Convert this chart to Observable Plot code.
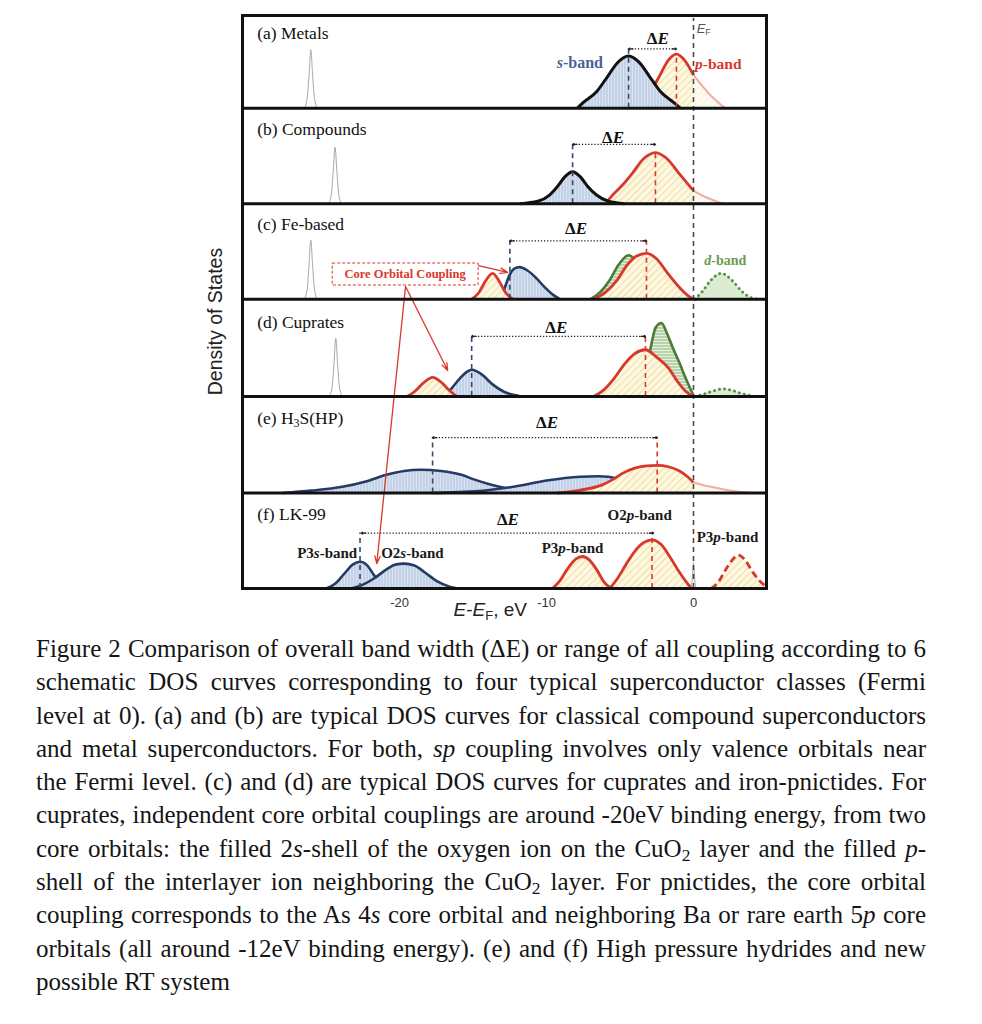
<!DOCTYPE html>
<html><head><meta charset="utf-8">
<script src="https://cdn.jsdelivr.net/npm/d3@7"></script>
<script src="https://cdn.jsdelivr.net/npm/@observablehq/plot@0.6"></script>
<style>
body{margin:0;background:#fff;}
#chart svg{display:block;}
#caption{margin:7px 0 0 36px;width:890px;font-family:"Liberation Serif","Times New Roman",serif;font-size:25px;line-height:33.3px;color:#151515;}
#caption div{height:33.3px;text-align:justify;text-align-last:justify;}
#caption div.last{text-align-last:left;}
#caption sub{font-size:0.7em;line-height:0;vertical-align:baseline;position:relative;top:0.25em;}
</style></head><body>
<div id="chart"></div>
<div id="caption"></div>
<script>
// ---------- data (x in eV, h = relative density inside a panel) ----------
const panelTitles = ["(a) Metals","(b) Compounds","(c) Fe-based","(d) Cuprates","(e) H<sub>3</sub>S(HP)","(f) LK-99"];
const panelBase = [5.03, 4.03, 3.03, 2.01, 1.0, 0];
const xDomain = [-30.7, 4.97];
const yDomain = [0, 6];
const xTicks = [-20, -10, 0];

// (a) Metals
const aCore = [[-26.5,0],[-26.3,0.1],[-26.17,0.35],[-26.05,0.61],[-25.93,0.35],[-25.8,0.1],[-25.6,0]];
const aP  = [[-3.4,0.08],[-2.85,0.19],[-2.29,0.343],[-1.72,0.5],[-1.16,0.565],[-0.6,0.5],[0,0.345]];
const aPf = [[0,0.345],[0.5,0.25],[1.0,0.16],[1.5,0.085],[2.0,0.02],[2.2,0]];
const aS  = [[-7.9,0],[-7.57,0.05],[-6.57,0.177],[-5.85,0.331],[-5.14,0.481],[-4.42,0.545],[-3.71,0.481],[-2.99,0.331],[-2.27,0.177],[-1.27,0.05],[-0.9,0]];
// (b) Compounds
const bCore = [[-24.85,0],[-24.65,0.1],[-24.52,0.35],[-24.4,0.59],[-24.28,0.35],[-24.15,0.1],[-23.95,0]];
const bP  = [[-6.0,0],[-5.4,0.107],[-4.8,0.2],[-4.15,0.32],[-3.4,0.47],[-2.59,0.535],[-1.8,0.47],[-1.0,0.32],[0,0.134]];
const bPf = [[0,0.134],[0.6,0.085],[1.2,0.045],[1.7,0.015],[2.1,0]];
const bS  = [[-11.8,0],[-10.6,0.025],[-9.8,0.09],[-9.26,0.18],[-8.76,0.28],[-8.23,0.335],[-7.7,0.28],[-7.2,0.18],[-6.6,0.09],[-5.8,0.025],[-4.7,0]];
// (c) Fe-based
const cCore = [[-26.5,0],[-26.3,0.1],[-26.17,0.36],[-26.05,0.62],[-25.93,0.36],[-25.8,0.1],[-25.6,0]];
const cB  = [[-13.1,0],[-12.8,0.14],[-12.5,0.26],[-12.2,0.32],[-11.84,0.335],[-11.3,0.3],[-10.7,0.22],[-10.1,0.12],[-9.6,0.05],[-9.1,0]];
const cR1 = [[-15.1,0],[-14.6,0.07],[-14.2,0.18],[-13.67,0.27],[-13.2,0.18],[-12.8,0.07],[-12.3,0]];
const cG  = [[-7.0,0],[-6.3,0.08],[-5.7,0.2],[-5.1,0.36],[-4.42,0.46],[-3.8,0.38],[-3.2,0.22],[-2.6,0.1],[-2.0,0]];
const cP  = [[-6.8,0],[-6.0,0.07],[-5.2,0.2],[-4.5,0.36],[-3.9,0.45],[-3.2,0.48],[-2.5,0.42],[-1.8,0.28],[-1.0,0.13],[-0.4,0.04],[0,0]];
const cD  = [[0.1,0],[0.6,0.08],[1.2,0.2],[1.9,0.27],[2.6,0.2],[3.3,0.08],[4.0,0.01],[4.3,0]];
// (d) Cuprates
const dCore = [[-24.8,0],[-24.6,0.1],[-24.47,0.35],[-24.35,0.61],[-24.23,0.35],[-24.1,0.1],[-23.9,0]];
const dB  = [[-17.0,0],[-16.5,0.08],[-15.9,0.19],[-15.5,0.25],[-15.1,0.28],[-14.4,0.23],[-13.7,0.13],[-12.9,0.05],[-12.0,0.01],[-11.7,0]];
const dR1 = [[-19.5,0],[-19.0,0.05],[-18.4,0.14],[-17.76,0.2],[-17.1,0.14],[-16.6,0.06],[-16.1,0]];
const dG  = [[-4.2,0],[-3.6,0.12],[-3.2,0.3],[-2.93,0.5],[-2.58,0.72],[-2.18,0.77],[-1.8,0.66],[-1.43,0.52],[-0.95,0.35],[-0.5,0.18],[0,0.01]];
const dP  = [[-6.8,0],[-6.1,0.07],[-5.4,0.19],[-4.7,0.34],[-4.0,0.45],[-3.27,0.49],[-2.5,0.41],[-1.66,0.29],[-1.1,0.16],[-0.5,0.05],[0,0]];
const dD  = [[0.1,0],[0.8,0.03],[1.5,0.065],[2.0,0.08],[2.6,0.065],[3.3,0.03],[4.2,0]];
// (e) H3S(HP)
const eB1 = [[-28.0,0],[-26.0,0.025],[-23.9,0.065],[-22.3,0.12],[-20.9,0.19],[-19.7,0.23],[-18.57,0.243],[-17.2,0.23],[-15.8,0.19],[-14.9,0.14],[-13.95,0.094],[-12.07,0.03],[-10.0,0]];
const eB2 = [[-17.9,0],[-14.6,0.02],[-12.07,0.07],[-10.0,0.13],[-7.7,0.17],[-6.5,0.175],[-5.1,0.15],[-3.5,0.06],[-2.1,0]];
const eR  = [[-9.3,0],[-7.7,0.03],[-6.3,0.08],[-5.5,0.14],[-4.9,0.2],[-4.0,0.26],[-3.2,0.285],[-2.47,0.29],[-1.7,0.275],[-0.95,0.23],[-0.4,0.17],[0,0.11]];
const eRf = [[0,0.11],[1.0,0.07],[2.0,0.04],[3.0,0.015],[3.9,0]];
// (f) LK-99
const fS   = [[-25.0,0],[-24.4,0.05],[-23.8,0.15],[-23.2,0.25],[-22.7,0.28],[-22.2,0.24],[-21.7,0.13],[-21.1,0.04],[-20.5,0]];
const fO   = [[-23.3,0],[-22.5,0.04],[-21.7,0.11],[-20.9,0.2],[-20.3,0.25],[-19.7,0.26],[-19.0,0.24],[-18.3,0.17],[-17.5,0.08],[-16.7,0.025],[-16.0,0]];
const fP3  = [[-9.6,0],[-9.1,0.08],[-8.6,0.2],[-8.0,0.31],[-7.55,0.335],[-7.1,0.3],[-6.6,0.2],[-6.1,0.07],[-5.6,0]];
const fO2p = [[-5.7,0],[-5.2,0.1],[-4.6,0.25],[-4.0,0.39],[-3.4,0.48],[-2.82,0.51],[-2.2,0.46],[-1.6,0.33],[-1.0,0.18],[-0.4,0.05],[-0.1,0]];
const fCore= [[-0.2,0],[-0.1,0.07],[-0.04,0.2],[0,0.27],[0.04,0.2],[0.1,0.07],[0.2,0]];
const fP3r = [[1.2,0],[1.7,0.07],[2.2,0.2],[2.7,0.31],[3.06,0.35],[3.5,0.3],[4.0,0.18],[4.5,0.08],[4.97,0.02]];

// draw order inside panels: [panel, kind, points]
const curves = [
  [0,"core",aCore],[0,"red",aP],[0,"faded",aPf],[0,"black",aS],
  [1,"core",bCore],[1,"red",bP],[1,"faded",bPf],[1,"black",bS],
  [2,"core",cCore],[2,"blue",cB],[2,"red",cR1],[2,"green",cG],[2,"red",cP],[2,"dband",cD],
  [3,"core",dCore],[3,"blue",dB],[3,"red",dR1],[3,"green",dG],[3,"red",dP],[3,"dband",dD],
  [4,"blue",eB1],[4,"blue",eB2],[4,"red",eR],[4,"faded",eRf],
  [5,"blue",fS],[5,"blue",fO],[5,"red",fP3],[5,"red",fO2p],[5,"core",fCore],[5,"redDash",fP3r]
];

// band-center dashed markers [panel, x, top h]
const dashS = [[0,-4.42,0.62],[1,-8.23,0.62],[2,-12.5,0.61],[3,-15.1,0.63],[4,-17.76,0.58],[5,-22.7,0.58]];
const dashP = [[0,-1.16,0.565],[1,-2.59,0.535],[2,-3.2,0.61],[3,-3.27,0.63],[4,-2.47,0.58],[5,-2.82,0.58]];
// ΔE double arrows [panel, x1, x2, h]
const deltaE = [[0,-4.42,-1.16,0.62],[1,-8.23,-2.59,0.62],[2,-12.5,-3.2,0.61],[3,-15.1,-3.27,0.63],[4,-17.76,-2.47,0.58],[5,-22.6,-2.72,0.58]];
const deltaLabels = [[0,-2.4,0.73],[1,-5.44,0.69],[2,-7.96,0.74],[3,-9.3,0.72],[4,-9.93,0.74],[5,-12.6,0.72]];
// band labels [panel, x, h, text, kind]
const bandLabels = [
  [0,-7.7,0.474,"<i>s</i>-band","sband"],
  [0,1.72,0.47,"<i>p</i>-band","pband"],
  [2,2.2,0.40,"<i>d</i>-band","dband"],
  [5,-24.9,0.367,"P3<i>s</i>-band","lk"],
  [5,-19.1,0.367,"O2<i>s</i>-band","lk"],
  [5,-8.2,0.42,"P3<i>p</i>-band","lk"],
  [5,-3.63,0.76,"O2<i>p</i>-band","lk"],
  [5,2.35,0.53,"P3<i>p</i>-band","lk"]
];
// core orbital coupling box (global y) and arrows [x1,y1,x2,y2]
const coreBox = [[-24.56,-14.63,3.173,3.403]];
const coreLabel = [-19.6,3.288,"Core Orbital Coupling"];
const coreArrows = [[-14.63,3.38,-12.65,3.31],[-19.6,3.162,-16.73,2.283],[-19.6,3.162,-21.56,0.262]];
const fermiLine = [[0,0,5.97]];
const axisLabelX = "<i>E</i>-<i>E</i><sub>F</sub>, eV";
const axisLabelY = "Density of States";

const captionLines = [
"Figure 2 Comparison of overall band width (ΔE) or range of all coupling according to 6",
"schematic DOS curves corresponding to four typical superconductor classes (Fermi",
"level at 0). (a) and (b) are typical DOS curves for classical compound superconductors",
"and metal superconductors. For both, <i>sp</i> coupling involves only valence orbitals near",
"the Fermi level. (c) and (d) are typical DOS curves for cuprates and iron-pnictides. For",
"cuprates, independent core orbital couplings are around -20eV binding energy, from two",
"core orbitals: the filled 2<i>s</i>-shell of the oxygen ion on the CuO<sub>2</sub> layer and the filled <i>p</i>-",
"shell of the interlayer ion neighboring the CuO<sub>2</sub> layer. For pnictides, the core orbital",
"coupling corresponds to the As 4<i>s</i> core orbital and neighboring Ba or rare earth 5<i>p</i> core",
"orbitals (all around -12eV binding energy). (e) and (f) High pressure hydrides and new",
"possible RT system"
];

// ---------- styles ----------
const RED = "#d8382b", NAVY = "#263a66";
const kinds = {
  core:   {fill:"none", stroke:"#a6a6a6", sw:1},
  black:  {fill:"url(#pBlue)", stroke:"#111", sw:3},
  blue:   {fill:"url(#pBlue)", stroke:NAVY, sw:2.6},
  red:    {fill:"url(#pYellow)", stroke:RED, sw:2.8},
  faded:  {fill:"url(#pYellow)", fo:0.4, stroke:"#f2aca4", sw:2},
  green:  {fill:"url(#pGreen)", stroke:"#4c7b37", sw:2.6},
  dband:  {fill:"#dcecd2", stroke:"#5e9146", sw:3, dash:"0.1,5", cap:"round"},
  redDash:{fill:"url(#pYellow)", stroke:RED, sw:2.8, dash:"7,4"}
};
const serif = "'Liberation Serif','Times New Roman',serif";
const sans = "'Liberation Sans',Arial,sans-serif";

const marks = [];
for (const [p, k, pts] of curves) {
  const s = kinds[k], b = panelBase[p];
  if (s.fill !== "none") marks.push(Plot.areaY(pts, {x: d => d[0], y1: () => b, y2: d => b + d[1], curve: "monotone-x", fill: s.fill, fillOpacity: s.fo ?? 1}));
  marks.push(Plot.line(pts, {x: d => d[0], y: d => b + d[1], curve: "monotone-x", stroke: s.stroke, strokeWidth: s.sw, strokeDasharray: s.dash, strokeLinecap: s.cap || "butt", strokeLinejoin: "round"}));
}
marks.push(
  Plot.ruleX(dashS, {x: d => d[1], y1: d => panelBase[d[0]], y2: d => panelBase[d[0]] + d[2], stroke: "#3a4868", strokeWidth: 1.6, strokeDasharray: "5,4"}),
  Plot.ruleX(dashP, {x: d => d[1], y1: d => panelBase[d[0]], y2: d => panelBase[d[0]] + d[2], stroke: RED, strokeWidth: 1.6, strokeDasharray: "5,4"}),
  Plot.ruleX(fermiLine, {x: d => d[0], y1: d => d[1], y2: d => d[2], stroke: "#4a4a4a", strokeWidth: 1.6, strokeDasharray: "5,4"}),
  Plot.link(deltaE, {x1: d => d[1], x2: d => d[2], y1: d => panelBase[d[0]] + d[3], y2: d => panelBase[d[0]] + d[3], stroke: "#222", strokeWidth: 1.3, strokeDasharray: "1.3,1.8"}),
  Plot.arrow(deltaE, {x1: d => d[2] - 0.3, x2: d => d[2], y1: d => panelBase[d[0]] + d[3], y2: d => panelBase[d[0]] + d[3], stroke: "#222", strokeWidth: 1.3, headLength: 6, headAngle: 70}),
  Plot.arrow(deltaE, {x1: d => d[1] + 0.3, x2: d => d[1], y1: d => panelBase[d[0]] + d[3], y2: d => panelBase[d[0]] + d[3], stroke: "#222", strokeWidth: 1.3, headLength: 6, headAngle: 70}),
  Plot.rect(coreBox, {x1: d => d[0], x2: d => d[1], y1: d => d[2], y2: d => d[3], fill: "white", stroke: RED, strokeWidth: 1, strokeDasharray: "3,2"}),
  Plot.arrow(coreArrows, {x1: d => d[0], y1: d => d[1], x2: d => d[2], y2: d => d[3], stroke: RED, strokeWidth: 1.3, headLength: 9, headAngle: 40}),
  Plot.ruleY(panelBase.slice(0, 5), {stroke: "#111", strokeWidth: 3}),
  Plot.frame({stroke: "#111", strokeWidth: 3}),
  Plot.axisX({ticks: xTicks, tickSize: 0, tickPadding: 9, label: null, fontSize: 13, tickFormat: d => String(d)})
);

const plot = Plot.plot({
  width: 982, height: 625,
  marginLeft: 242, marginRight: 216, marginTop: 15, marginBottom: 37,
  x: {domain: xDomain, axis: null},
  y: {domain: yDomain, axis: null},
  style: {fontFamily: sans, fontSize: "13px", color: "#333", background: "white"},
  marks
});

d3.select(plot).insert("defs", ":first-child").html(`
<pattern id="pBlue" patternUnits="userSpaceOnUse" width="3" height="6"><rect width="3" height="6" fill="#d8e2f0"/><line x1="1" y1="0" x2="1" y2="6" stroke="#b1c3de" stroke-width="1"/></pattern>
<pattern id="pYellow" patternUnits="userSpaceOnUse" width="5" height="5" patternTransform="rotate(45)"><rect width="5" height="5" fill="#fdf8df"/><line x1="0" y1="0" x2="0" y2="5" stroke="#efd5a0" stroke-width="1.6"/></pattern>
<pattern id="pGreen" patternUnits="userSpaceOnUse" width="6" height="3"><rect width="6" height="3" fill="#e4f0dd"/><line x1="0" y1="1" x2="6" y2="1" stroke="#8db77a" stroke-width="1"/></pattern>`);

const sx = plot.scale("x"), sy = plot.scale("y");
const layer = d3.select(plot).append("g");
function rich(x, y, markup, st) {
  const t = layer.append("text")
    .attr("x", sx.apply(x)).attr("y", sy.apply(y))
    .attr("font-family", st.font).attr("font-size", st.size)
    .attr("font-weight", st.weight || "normal").attr("fill", st.color)
    .attr("text-anchor", st.anchor || "middle").attr("dominant-baseline", "central");
  let italic = false, sub = false, pend = 0;
  const sh = st.size * 0.3;
  for (const tok of markup.split(/(<\/?(?:i|sub)>)/)) {
    if (!tok) continue;
    if (tok === "<i>") { italic = true; continue; }
    if (tok === "</i>") { italic = false; continue; }
    if (tok === "<sub>") { sub = true; pend += sh; continue; }
    if (tok === "</sub>") { sub = false; pend -= sh; continue; }
    const ts = t.append("tspan").text(tok).attr("font-style", italic ? "italic" : "normal");
    if (sub) ts.attr("font-size", st.size * 0.68);
    if (pend) { ts.attr("dy", pend); pend = 0; }
  }
  return t;
}
const labelStyles = {
  sband: {font: serif, size: 16, weight: "bold", color: "#4a6496"},
  pband: {font: serif, size: 15.5, weight: "bold", color: RED},
  dband: {font: serif, size: 14, weight: "bold", color: "#6a9c50"},
  lk:    {font: serif, size: 15, weight: "bold", color: "#1a1a1a"}
};
panelTitles.forEach((t, i) => rich(-29.67, panelBase[i] + 0.78, t, {font: serif, size: 17.5, color: "#111", anchor: "start"}));
deltaLabels.forEach(([p, x, h]) => rich(x, panelBase[p] + h, "Δ<i>E</i>", {font: serif, size: 17, weight: "bold", color: "#111"}));
bandLabels.forEach(([p, x, h, t, k]) => rich(x, panelBase[p] + h, t, labelStyles[k]));
rich(coreLabel[0], coreLabel[1], coreLabel[2], {font: serif, size: 12.5, weight: "bold", color: RED});
rich(0.25, 5.86, "<i>E</i><sub>F</sub>", {font: sans, size: 13, color: "#555", anchor: "start"});
rich(-13.8, -0.22, axisLabelX, {font: sans, size: 19, color: "#222"});
layer.append("text")
  .attr("transform", `translate(${sx.apply(xDomain[0]) - 27.5},${sy.apply(2.79)}) rotate(-90)`)
  .attr("font-family", sans).attr("font-size", 19.5).attr("fill", "#222")
  .attr("text-anchor", "middle").attr("dominant-baseline", "central").text(axisLabelY);

document.getElementById("chart").appendChild(plot);
const cap = document.getElementById("caption");
captionLines.forEach((l, i) => {
  const div = document.createElement("div");
  if (i === captionLines.length - 1) div.className = "last";
  div.innerHTML = l;
  cap.appendChild(div);
});
</script></body></html>
